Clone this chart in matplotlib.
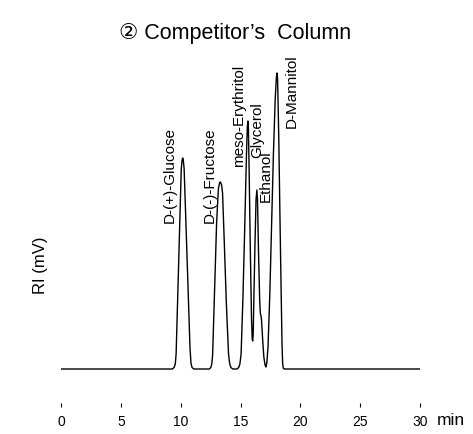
import matplotlib
matplotlib.use("Agg")
import matplotlib.pyplot as plt

# RI trace (time in min, signal above baseline)
time_min = [
    0.0, 9.30, 9.45, 9.55, 9.62, 9.80, 9.95, 10.05, 10.12, 10.17, 10.22, 10.29,
    10.45, 10.62, 10.78, 10.86, 10.95, 11.10,
    12.40, 12.52, 12.60, 12.67, 12.85, 13.00, 13.15, 13.25, 13.32, 13.42, 13.50,
    13.65, 13.82, 14.00, 14.10, 14.20, 14.35,
    14.70, 14.85, 14.95, 15.05, 15.20, 15.35, 15.50, 15.57, 15.62, 15.66, 15.72,
    15.82, 15.92, 15.98, 16.02, 16.06,
    16.10, 16.20, 16.30, 16.37, 16.42, 16.50, 16.60, 16.66, 16.70, 16.75,
    16.85, 16.95, 17.05, 17.12,
    17.20, 17.30, 17.45, 17.60, 17.75, 17.90, 18.00, 18.05, 18.10, 18.20, 18.30,
    18.40, 18.47, 18.52, 18.57, 18.65, 30.0,
]
signal = [
    0, 0, 1.5, 5, 15, 92, 157, 200, 209, 211, 209, 200,
    142, 80, 21, 6, 1.5, 0,
    0, 1.5, 5, 14, 85, 145, 180, 186, 187, 184, 176,
    125, 65, 15, 5, 1.5, 0,
    0, 1.5, 5, 15, 70, 140, 215, 242, 248, 242, 200,
    120, 50, 30, 28, 35,
    60, 120, 170, 179, 170, 120, 70, 55, 54, 50,
    30, 12, 4, 2,
    6, 22, 75, 145, 215, 270, 292, 296, 290, 230, 150,
    75, 25, 6, 1, 0, 0,
]

peak_names = ["D-(+)-Glucose", "D-(-)-Fructose", "meso-Erythritol",
              "Glycerol", "Ethanol", "D-Mannitol"]
label_x = [9.1, 12.4, 14.9, 16.4, 17.15, 19.3]
label_y = [147, 147, 203, 212, 168, 242]

x_ticks = [0, 5, 10, 15, 20, 25, 30]

font = ["Liberation Sans", "DejaVu Sans"]
plt.rcParams["font.family"] = font

fig = plt.figure(figsize=(4.73, 4.35), dpi=100)
ax = fig.add_axes([61 / 473, 31 / 435, 359 / 473, 344 / 435])

ax.plot(time_min, signal, color="black", lw=1.0)

for name, lx, ly in zip(peak_names, label_x, label_y):
    ax.text(lx, ly, name, rotation=90, ha="center", va="bottom", fontsize=11)

ax.set_xlim(0, 30)
ax.set_ylim(-34, 310)
ax.set_xticks(x_ticks)
ax.set_xticklabels([str(t) for t in x_ticks], fontsize=10)
ax.tick_params(axis="x", direction="out", length=3, width=0.8, pad=5)
ax.set_yticks([])
for s in ax.spines.values():
    s.set_visible(False)

fig.text(437 / 473, 1 - 421 / 435, "min", fontsize=12.5, ha="left", va="center")
fig.text(40 / 473, 1 - 265 / 435, "RI (mV)", fontsize=12, rotation=90,
         ha="center", va="center")
fig.text(235 / 473, 1 - 34 / 435, "\u2461 Competitor\u2019s  Column",
         fontsize=15.5, ha="center", va="center")

fig.savefig("out.png", dpi=100)
